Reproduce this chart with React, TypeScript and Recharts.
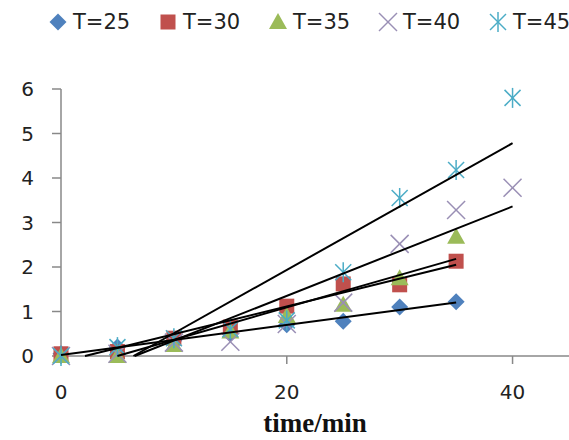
import React from 'react';
import { ScatterChart, Scatter, XAxis, YAxis, Label } from 'recharts';

// ---- data ----
const times = [0, 5, 10, 15, 20, 25, 30, 35, 40];
const seriesNames = ['T=25', 'T=30', 'T=35', 'T=40', 'T=45'];
const t25 = [0.05, 0.2, 0.35, 0.5, 0.7, 0.78, 1.1, 1.22];
const t30 = [0.05, 0.1, 0.4, 0.65, 1.12, 1.62, 1.6, 2.13];
const t35 = [0, 0, 0.25, 0.55, 0.9, 1.15, 1.75, 2.68];
const t40 = [0, 0.05, 0.3, 0.32, 0.72, 1.2, 2.52, 3.28, 3.78];
const t45 = [0, 0.2, 0.4, 0.6, 0.8, 1.88, 3.55, 4.18, 5.8];
const xTicks = [0, 20, 40];
const yTicks = [0, 1, 2, 3, 4, 5, 6];

const colors = ['#4F81BD', '#C0504D', '#9BBB59', '#9A8FB5', '#4BACC6'];
const kinds = ['diamond', 'square', 'triangle', 'x', 'asterisk'];
const allValues = [t25, t30, t35, t40, t45];

const toPoints = (vals: number[]) => vals.map((v, i) => ({ x: times[i], y: v }));

function trend(vals: number[]) {
  const xs = times.slice(0, vals.length);
  const n = vals.length;
  const mx = xs.reduce((a, b) => a + b, 0) / n;
  const my = vals.reduce((a, b) => a + b, 0) / n;
  let sxy = 0, sxx = 0;
  for (let i = 0; i < n; i++) {
    sxy += (xs[i] - mx) * (vals[i] - my);
    sxx += (xs[i] - mx) * (xs[i] - mx);
  }
  const m = sxy / sxx;
  const b = my - m * mx;
  const x0 = b < 0 ? -b / m : xs[0];
  const x1 = xs[n - 1];
  return [
    { x: x0, y: m * x0 + b },
    { x: x1, y: m * x1 + b },
  ];
}

function Marker({ kind, color, cx, cy }: { kind: string; color: string; cx: number; cy: number }) {
  const s = 8.5;
  if (kind === 'diamond')
    return <polygon points={`${cx},${cy - s} ${cx + s},${cy} ${cx},${cy + s} ${cx - s},${cy}`} fill={color} />;
  if (kind === 'square')
    return <rect x={cx - 7.5} y={cy - 7.5} width={15} height={15} fill={color} />;
  if (kind === 'triangle')
    return <polygon points={`${cx},${cy - 9} ${cx + 9},${cy + 7} ${cx - 9},${cy + 7}`} fill={color} />;
  if (kind === 'x')
    return (
      <g stroke={color} strokeWidth={1.5}>
        <line x1={cx - 9} y1={cy - 9} x2={cx + 9} y2={cy + 9} />
        <line x1={cx - 9} y1={cy + 9} x2={cx + 9} y2={cy - 9} />
      </g>
    );
  return (
    <g stroke={color} strokeWidth={1.5}>
      <line x1={cx - 8} y1={cy - 8} x2={cx + 8} y2={cy + 8} />
      <line x1={cx - 8} y1={cy + 8} x2={cx + 8} y2={cy - 8} />
      <line x1={cx} y1={cy - 10} x2={cx} y2={cy + 10} />
    </g>
  );
}

const tickFont = { fontSize: 20, fill: '#222', fontFamily: 'DejaVu Sans' };

export default function App() {
  return (
    <div style={{ position: 'absolute', left: 0, top: 0, width: 569, height: 440, background: '#fff' }}>
      <ScatterChart width={569} height={440} margin={{ top: 89, right: 0, bottom: 0, left: 0 }}>
        <XAxis
          type="number"
          dataKey="x"
          domain={[0, 45]}
          ticks={xTicks}
          tickSize={8}
          tickMargin={21}
          height={84}
          axisLine={{ stroke: '#888', strokeWidth: 1.5 }}
          tickLine={{ stroke: '#888', strokeWidth: 1.5 }}
          tick={tickFont}
        >
          <Label
            value="time/min"
            position="insideBottom"
            offset={8}
            style={{ fontFamily: 'Liberation Serif', fontWeight: 'bold', fontSize: 27, fill: '#111' }}
          />
        </XAxis>
        <YAxis
          type="number"
          dataKey="y"
          domain={[0, 6]}
          ticks={yTicks}
          width={61}
          tickSize={9}
          tickMargin={18}
          axisLine={{ stroke: '#888', strokeWidth: 1.5 }}
          tickLine={{ stroke: '#888', strokeWidth: 1.5 }}
          tick={tickFont}
        />
        {allValues.map((vals, i) => (
          <Scatter
            key={seriesNames[i]}
            name={seriesNames[i]}
            data={toPoints(vals)}
            isAnimationActive={false}
            shape={(p: any) => <Marker kind={kinds[i]} color={colors[i]} cx={p.cx} cy={p.cy} />}
          />
        ))}
        {allValues.map((vals, i) => (
          <Scatter
            key={'trend' + seriesNames[i]}
            data={trend(vals)}
            isAnimationActive={false}
            line={{ stroke: '#000', strokeWidth: 2 }}
            shape={() => <g />}
            legendType="none"
          />
        ))}
      </ScatterChart>
      <div
        style={{
          position: 'absolute',
          left: 47,
          top: 9,
          display: 'flex',
          fontFamily: 'DejaVu Sans',
          fontSize: 21,
          color: '#222',
          lineHeight: '26px',
        }}
      >
        {seriesNames.map((n, i) => (
          <div key={n} style={{ display: 'flex', alignItems: 'center', width: 110 }}>
            <svg width={22} height={26}>
              <Marker kind={kinds[i]} color={colors[i]} cx={11} cy={13} />
            </svg>
            <span style={{ marginLeft: 4 }}>{n}</span>
          </div>
        ))}
      </div>
    </div>
  );
}
